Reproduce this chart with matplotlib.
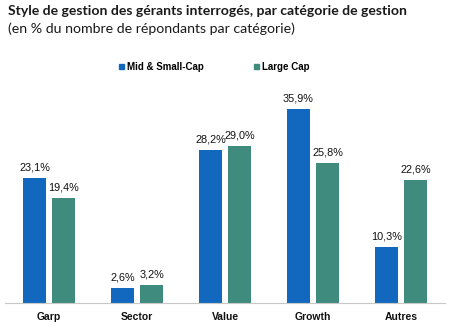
import matplotlib
matplotlib.use("Agg")
import matplotlib.pyplot as plt
from matplotlib.patches import Patch

categories = ["Garp", "Sector", "Value", "Growth", "Autres"]
mid_small = [23.1, 2.6, 28.2, 35.9, 10.3]
large_cap = [19.4, 3.2, 29.0, 25.8, 22.6]
series_names = ["Mid & Small-Cap", "Large Cap"]
title = "Style de gestion des gérants interrogés, par catégorie de gestion"
subtitle = "(en % du nombre de répondants par catégorie)"

BLUE = "#1268BE"
GREEN = "#3F8B7E"

W, H = 450, 325
fig = plt.figure(figsize=(W / 100, H / 100), dpi=100)
ax = fig.add_axes([5 / W, (H - 302.5) / H, 440 / W, 216 / H])

x = list(range(len(categories)))
bw = 23 / 88
off = 14.5 / 88
b1 = ax.bar([i - off for i in x], mid_small, width=bw, color=BLUE)
b2 = ax.bar([i + off for i in x], large_cap, width=bw, color=GREEN)

def fmt(v):
    return f"{v:.1f}%".replace(".", ",")

for bars, vals in ((b1, mid_small), (b2, large_cap)):
    for r, v in zip(bars, vals):
        ax.annotate(fmt(v), (r.get_x() + r.get_width() / 2, v),
                    xytext=(0, 4), textcoords="offset points",
                    ha="center", va="bottom", fontsize=7.8,
                    family="Liberation Sans", color="#111111")

ax.set_xlim(-0.5, len(categories) - 0.5)
ax.set_ylim(0, 40)
ax.set_xticks(x)
ax.set_xticklabels(categories, fontsize=7.5, fontweight="bold",
                   family="Liberation Sans", color="#111111")
ax.tick_params(axis="x", length=0, pad=6.5)
ax.set_yticks([])
for s in ("top", "right", "left"):
    ax.spines[s].set_visible(False)
ax.spines["bottom"].set_color("#C8C8C8")
ax.spines["bottom"].set_linewidth(0.8)

handles = [Patch(color=BLUE), Patch(color=GREEN)]
fig.legend(handles, series_names, loc="center", bbox_to_anchor=(214 / W, 1 - 67 / H),
           ncol=2, frameon=False, handlelength=0.5, handleheight=0.5,
           handletextpad=0.3, columnspacing=5.2,
           prop={"family": "Liberation Sans", "weight": "bold", "size": 7})

t1 = fig.text(8 / W, 1 - 11 / H, title, ha="left", va="center",
              fontsize=10, fontweight="bold", family="Lato", color="#1a1a1a")
t2 = fig.text(8 / W, 1 - 29 / H, subtitle, ha="left", va="center",
              fontsize=10, family="Lato", color="#1a1a1a")

fig.canvas.draw()
r = fig.canvas.get_renderer()
for t, target in ((t1, 400), (t2, 287)):
    w = t.get_window_extent(r).width
    t.set_fontsize(t.get_fontsize() * target / w)

fig.savefig("out.png", dpi=100, facecolor="white")
